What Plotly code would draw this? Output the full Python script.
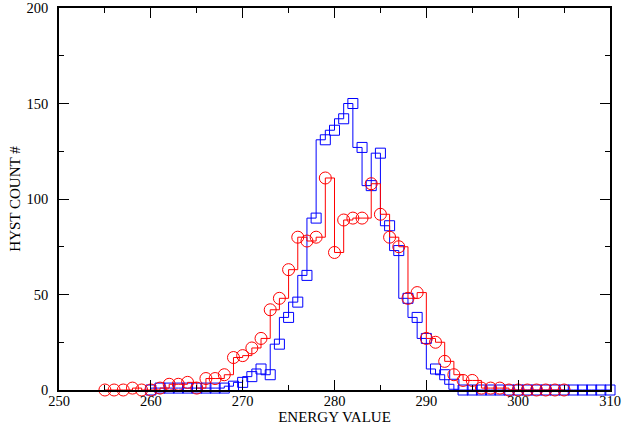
import plotly.graph_objects as go

red_x = list(range(255, 306))
red_y = [0, 0, 0, 1, 0, 0, 1, 3, 3, 4, 1, 6, 6, 8, 17, 18, 22, 27, 42, 48,
         63, 80, 78, 80, 111, 72, 89, 90, 90, 108, 92, 80, 75, 48, 51, 27, 25, 15, 8, 5,
         5, 1, 1, 1, 0, 0, 0, 0, 0, 0, 0]

blue_x = list(range(260, 311))
blue_y = [0, 1, 1, 1, 1, 1, 1, 1, 1, 2, 4, 7, 11, 8, 24, 38, 46, 60, 90, 131,
          136, 142, 150, 127, 107, 124, 86, 73, 48, 38, 27, 11, 8, 3, 0, 0, 0, 0, 0, 0,
          0, 0, 0, 0, 0, 0, 0, 0, 0, 0, 0]

x_title = "ENERGY VALUE"
y_title = "HYST COUNT #"

font = "Liberation Serif, Times New Roman, serif"

fig = go.Figure()
fig.add_trace(go.Scatter(
    x=blue_x, y=blue_y, mode="lines+markers", line_shape="vh",
    line=dict(color="#0000ff", width=1),
    marker=dict(symbol="square-open", size=10, color="#0000ff", line=dict(width=1)),
    cliponaxis=False, showlegend=False))
fig.add_trace(go.Scatter(
    x=red_x, y=red_y, mode="lines+markers", line_shape="hv",
    line=dict(color="#ff0000", width=1),
    marker=dict(symbol="circle-open", size=12, color="#ff0000", line=dict(width=1)),
    cliponaxis=False, showlegend=False))

axis_common = dict(
    showgrid=False, zeroline=False, showline=True, linecolor="black", linewidth=1.5,
    mirror="allticks", ticks="inside", ticklen=10, tickwidth=1, tickcolor="black",
    tickfont=dict(family=font, size=14.5, color="black"), automargin=False,
)

fig.update_xaxes(range=[250, 310], dtick=10, tick0=250, ticklabelstandoff=-3,
                 minor=dict(dtick=5, ticks="inside", ticklen=5, tickcolor="black"),
                 title=dict(text=x_title, font=dict(family=font, size=15, color="black"), standoff=0),
                 **axis_common)
fig.update_yaxes(range=[0, 200], dtick=50, tick0=0, ticklabelstandoff=6,
                 minor=dict(dtick=25, ticks="inside", ticklen=5, tickcolor="black"),
                 title=dict(text=y_title, font=dict(family=font, size=15, color="black"), standoff=2),
                 **axis_common)

fig.update_layout(
    width=629, height=425,
    margin=dict(l=59, r=19, t=8, b=35),
    paper_bgcolor="white", plot_bgcolor="white",
)

fig.write_html("out.html")
